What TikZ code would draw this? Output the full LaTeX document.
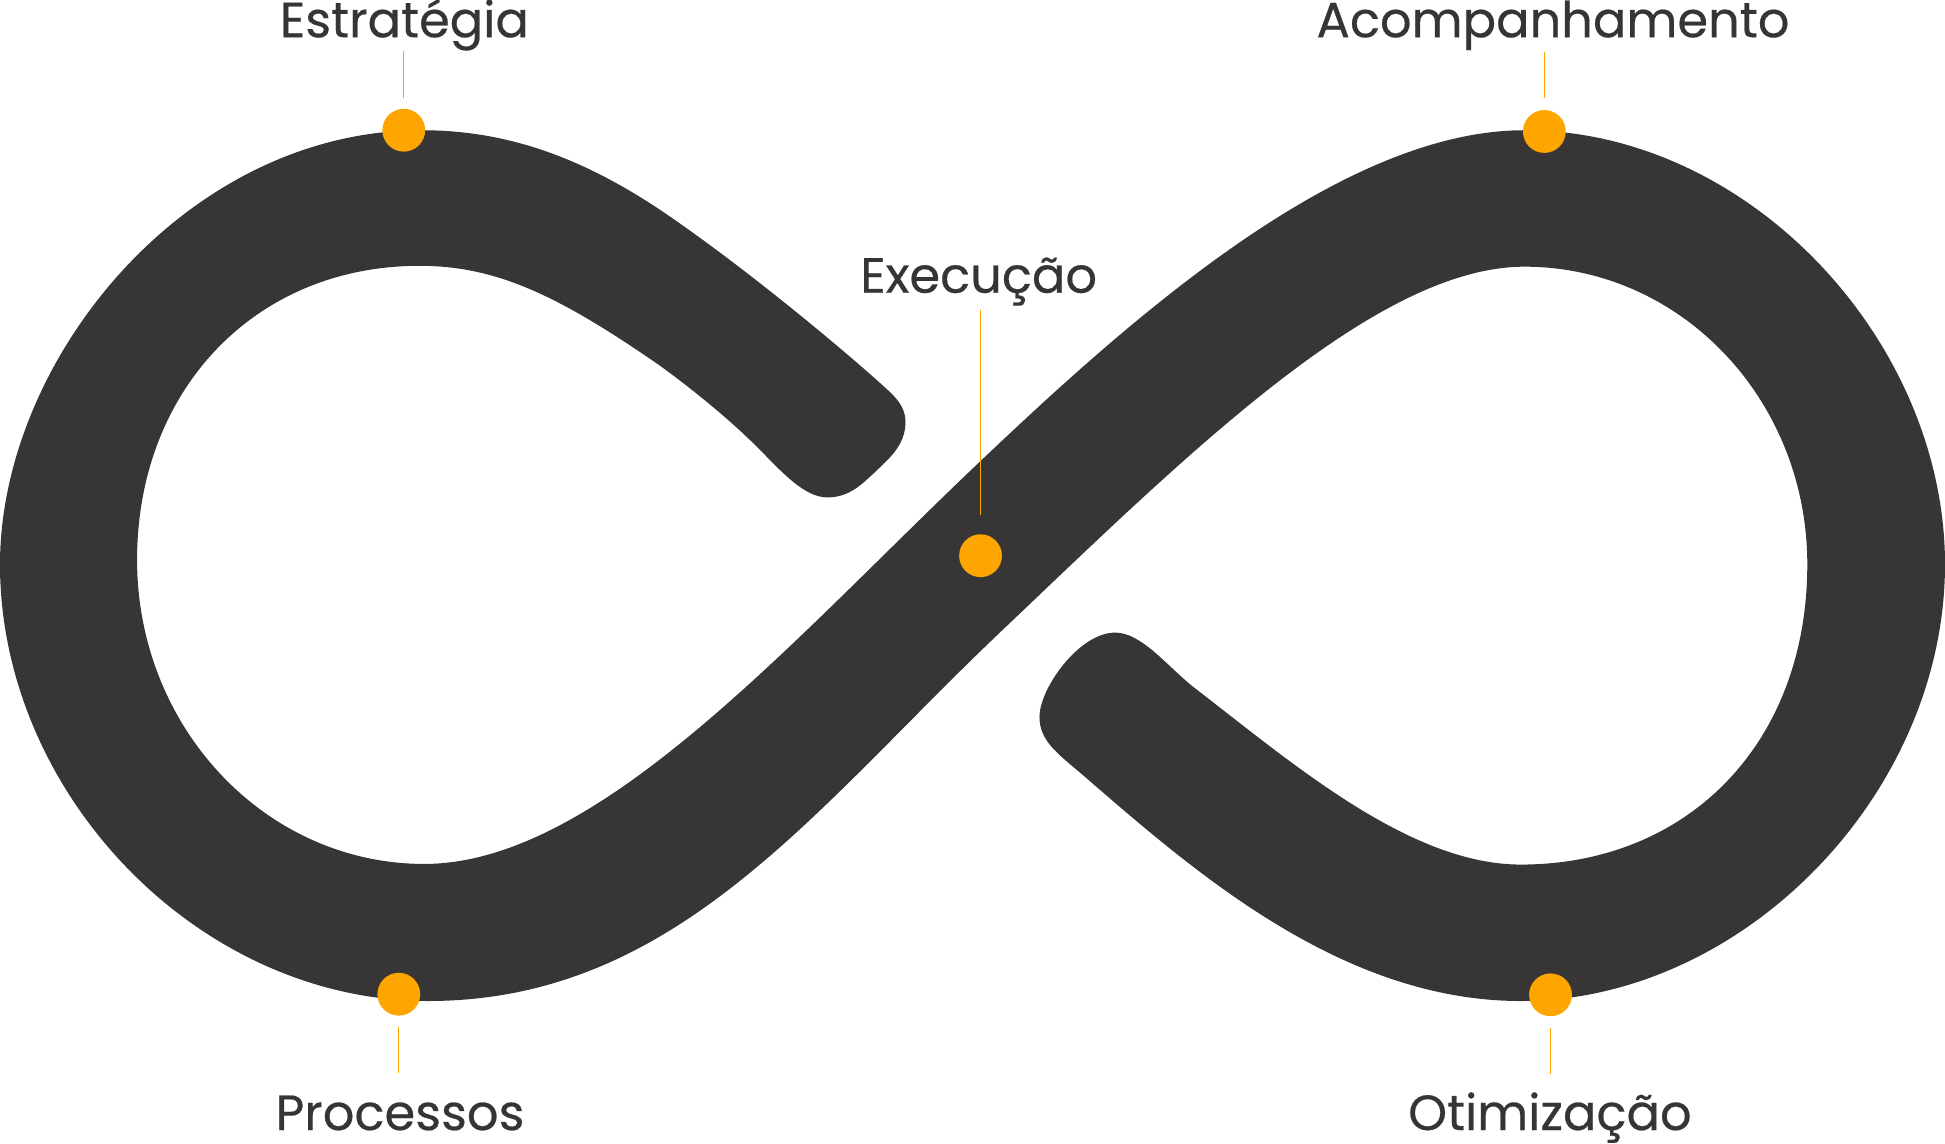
\documentclass[tikz,border=0pt]{standalone}
\usepackage{fontspec}
\setmainfont{Poppins}[FakeBold=0.4]
\definecolor{loopgray}{HTML}{373536}
\definecolor{stageorange}{HTML}{FFA500}
\definecolor{labelgray}{HTML}{363435}

\begin{document}
\begin{tikzpicture}[x=0.01cm, y=-0.01cm,
    stage/.style={circle, fill=stageorange, inner sep=0pt, minimum size=0.345cm},
    stagelabel/.style={font=\fontsize{11.35}{13}\selectfont, text=labelgray, inner sep=0pt, anchor=base},
    guide/.style={stageorange, line width=0.3pt}]
  \useasboundingbox (0,0) rectangle (1568,922);

  % the band of the loop
  \fill[loopgray] (340,105)
    .. controls (150,105) and (0,290) .. (0,455)
    .. controls (0,640) and (160,807) .. (345,807)
    .. controls (545,807) and (656,652.5) .. (806,510)
    .. controls (956,367.5) and (1109,215) .. (1229,215)
    .. controls (1355,215) and (1457,322) .. (1457,455)
    .. controls (1457,600) and (1360,697) .. (1226,697)
    .. controls (1136,697) and (1041.6,615) .. (961.6,553.5)
    .. controls (940,536) and (920,510) .. (899,510)
    .. controls (870,510) and (838,555) .. (838,578)
    .. controls (838,597) and (852,607) .. (872,624)
    .. controls (960,700) and (1080,807) .. (1226,807)
    .. controls (1405,807) and (1568,640) .. (1568,455)
    .. controls (1568,275) and (1410,105) .. (1229,105)
    .. controls (1079,105) and (907,261) .. (787,375)
    .. controls (637,517.5) and (482,696.5) .. (342,696.5)
    .. controls (214,696.5) and (110.5,586.5) .. (110.5,451.4)
    .. controls (110.5,315) and (205,214.3) .. (338.3,214.3)
    .. controls (400,214.3) and (450,238) .. (531.6,294.5)
    .. controls (560,315) and (590,340) .. (610,360)
    .. controls (630,380) and (648,401) .. (667,401)
    .. controls (685,401) and (695,390) .. (705,381)
    .. controls (715,371) and (730,360) .. (730,340)
    .. controls (730,328) and (722,320) .. (713,312)
    .. controls (680,282) and (600,215) .. (531.6,168.8)
    .. controls (470,128) and (410,105) .. (340,105) -- cycle;

  % stages
  \node[stage] (est) at (325.5,105) {};
  \node[stage] (acomp) at (1245,106) {};
  \node[stage] (exec) at (790.5,448) {};
  \node[stage] (proc) at (321.5,801.5) {};
  \node[stage] (otim) at (1250,802) {};

  \node[stagelabel] (est-label) at (326,30) {Estratégia};
  \node[stagelabel] (acomp-label) at (1252,30) {Acompanhamento};
  \node[stagelabel] (exec-label) at (789,236) {Execução};
  \node[stagelabel] (proc-label) at (322.5,911) {Processos};
  \node[stagelabel] (otim-label) at (1249.5,911) {Otimização};

  \coordinate (est-tick) at (325.5,41);
  \coordinate (acomp-tick) at (1245,42);
  \coordinate (exec-tick) at (790.5,250);
  \coordinate (proc-tick) at (321.5,865);
  \coordinate (otim-tick) at (1250,866);

  \draw[guide, shorten <=0.08cm] (est) -- (est-tick);
  \draw[guide, shorten <=0.09cm] (acomp) -- (acomp-tick);
  \draw[guide, shorten <=0.15cm] (exec) -- (exec-tick);
  \draw[guide, shorten <=0.085cm] (proc) -- (proc-tick);
  \draw[guide, shorten <=0.086cm] (otim) -- (otim-tick);
\end{tikzpicture}
\end{document}
